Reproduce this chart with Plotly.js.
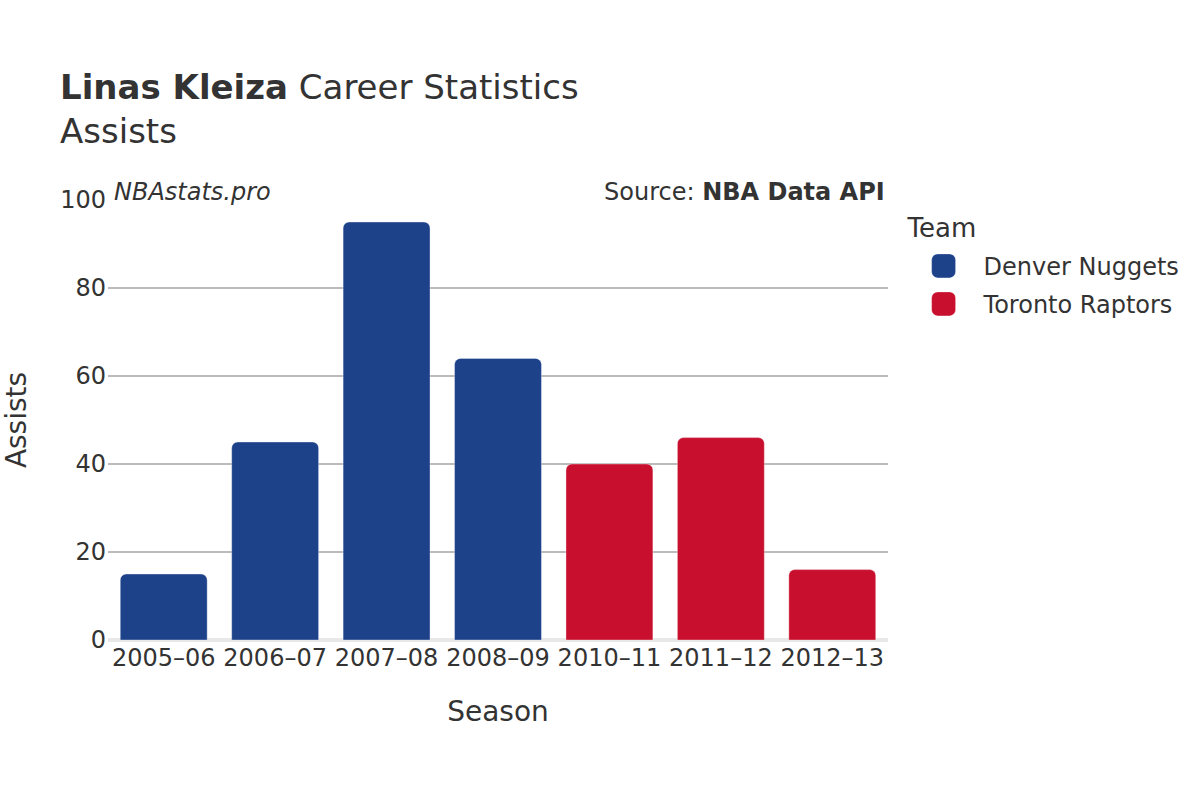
<!DOCTYPE html>
<html>
<head>
<meta charset="utf-8">
<script src="https://cdn.plot.ly/plotly-3.0.1.min.js"></script>
<style>
html,body{margin:0;padding:0;background:#fff;overflow:hidden;}
#wrap{width:1200px;height:800px;overflow:hidden;}
#chart{width:600px;height:400px;transform:scale(2);transform-origin:0 0;}
</style>
</head>
<body>
<div id="wrap"><div id="chart"></div></div>
<script>
const seasons = ["2005–06", "2006–07", "2007–08", "2008–09", "2010–11", "2011–12", "2012–13"];
const denverSeasons = ["2005–06", "2006–07", "2007–08", "2008–09"];
const denverAssists = [15, 45, 95, 64];
const torontoSeasons = ["2010–11", "2011–12", "2012–13"];
const torontoAssists = [40, 46, 16];
const yTicks = [0, 20, 40, 60, 80, 100];

const font = "DejaVu Sans, sans-serif";
const data = [
  {type: "bar", name: "Denver Nuggets", x: denverSeasons, y: denverAssists,
   marker: {color: "#1D428A", cornerradius: 3, line: {color: "rgba(255,255,255,0.35)", width: 0.5}}},
  {type: "bar", name: "Toronto Raptors", x: torontoSeasons, y: torontoAssists,
   marker: {color: "#C8102E", cornerradius: 3, line: {color: "rgba(255,255,255,0.35)", width: 0.5}}}
];
const layout = {
  width: 600, height: 400,
  font: {family: font, color: "#333", size: 12},
  paper_bgcolor: "#fff", plot_bgcolor: "#fff",
  margin: {l: 54, r: 156, t: 100, b: 80, autoexpand: false},
  barmode: "overlay",
  bargap: 0.22,
  title: {text: "<b>Linas Kleiza</b> Career Statistics<br>Assists", x: 0.05, xanchor: "left", y: 0.876, yanchor: "top",
          font: {size: 17, color: "#333"}},
  xaxis: {type: "category", categoryorder: "array", categoryarray: seasons,
          title: {text: "Season", font: {size: 14}, standoff: 15},
          tickfont: {size: 12}, showgrid: false, zeroline: false, showline: false, ticks: ""},
  yaxis: {range: [0, 100], tickvals: yTicks, title: {text: "Assists", font: {size: 14}, standoff: 20},
          tickfont: {size: 12}, showgrid: true, gridcolor: "#bbb", gridwidth: 0.8,
          zeroline: true, zerolinecolor: "#e8e8e8", zerolinewidth: 2, showline: false, ticks: ""},
  legend: {title: {text: "Team", font: {size: 13}}, x: 1.02, xanchor: "left", y: 0.993, yanchor: "top",
           font: {size: 12}},
  annotations: [
    {text: "<i>NBAstats.pro</i>", xref: "paper", yref: "paper", x: 0, y: 1.0, xanchor: "left", yanchor: "bottom",
     showarrow: false, font: {size: 12, color: "#333"}, xshift: 1, yshift: -5},
    {text: "Source: <b>NBA Data API</b>", xref: "paper", yref: "paper", x: 1, y: 1.0, xanchor: "right", yanchor: "bottom",
     showarrow: false, font: {size: 12, color: "#333"}, yshift: -5}
  ]
};
Plotly.newPlot("chart", data, layout, {displayModeBar: false, staticPlot: true});
</script>
</body>
</html>
